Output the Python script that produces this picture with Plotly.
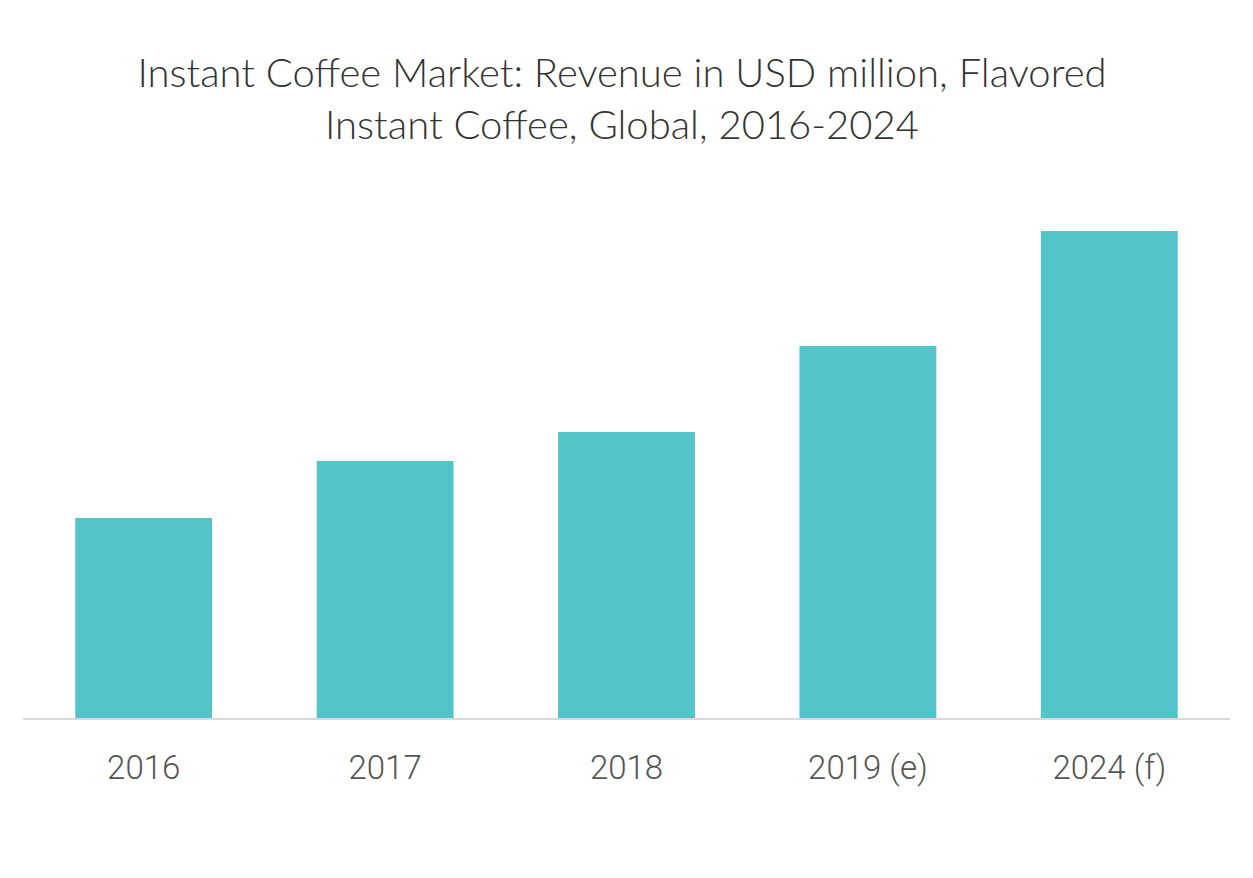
import plotly.graph_objects as go

categories = ["2016", "2017", "2018", "2019 (e)", "2024 (f)"]
revenue = [200, 257, 286, 372, 487]

fig = go.Figure(go.Bar(
    x=categories, y=revenue,
    marker=dict(color="#53C4C9", line=dict(width=0)),
    hoverinfo="x+y",
))

fig.update_layout(
    width=1253, height=878,
    paper_bgcolor="white", plot_bgcolor="white",
    margin=dict(l=15, r=31, t=192, b=168),
    bargap=0.433,
    showlegend=False,
    title=dict(
        text="Instant Coffee Market: Revenue in USD million, Flavored<br>Instant Coffee, Global, 2016-2024",
        x=0.49, xanchor="center", yref="container", y=0.91, yanchor="middle",
        font=dict(family="Lato", size=40, color="#333333", weight=300),
    ),
    xaxis=dict(
        showline=True, linecolor="#d9d9d9", linewidth=2,
        showgrid=False, ticks="", ticklabelstandoff=19,
        tickfont=dict(family="Roboto", size=33, color="#555555", weight=300),
    ),
    yaxis=dict(visible=False, range=[0, 518]),
)

fig.write_html("out.html")
